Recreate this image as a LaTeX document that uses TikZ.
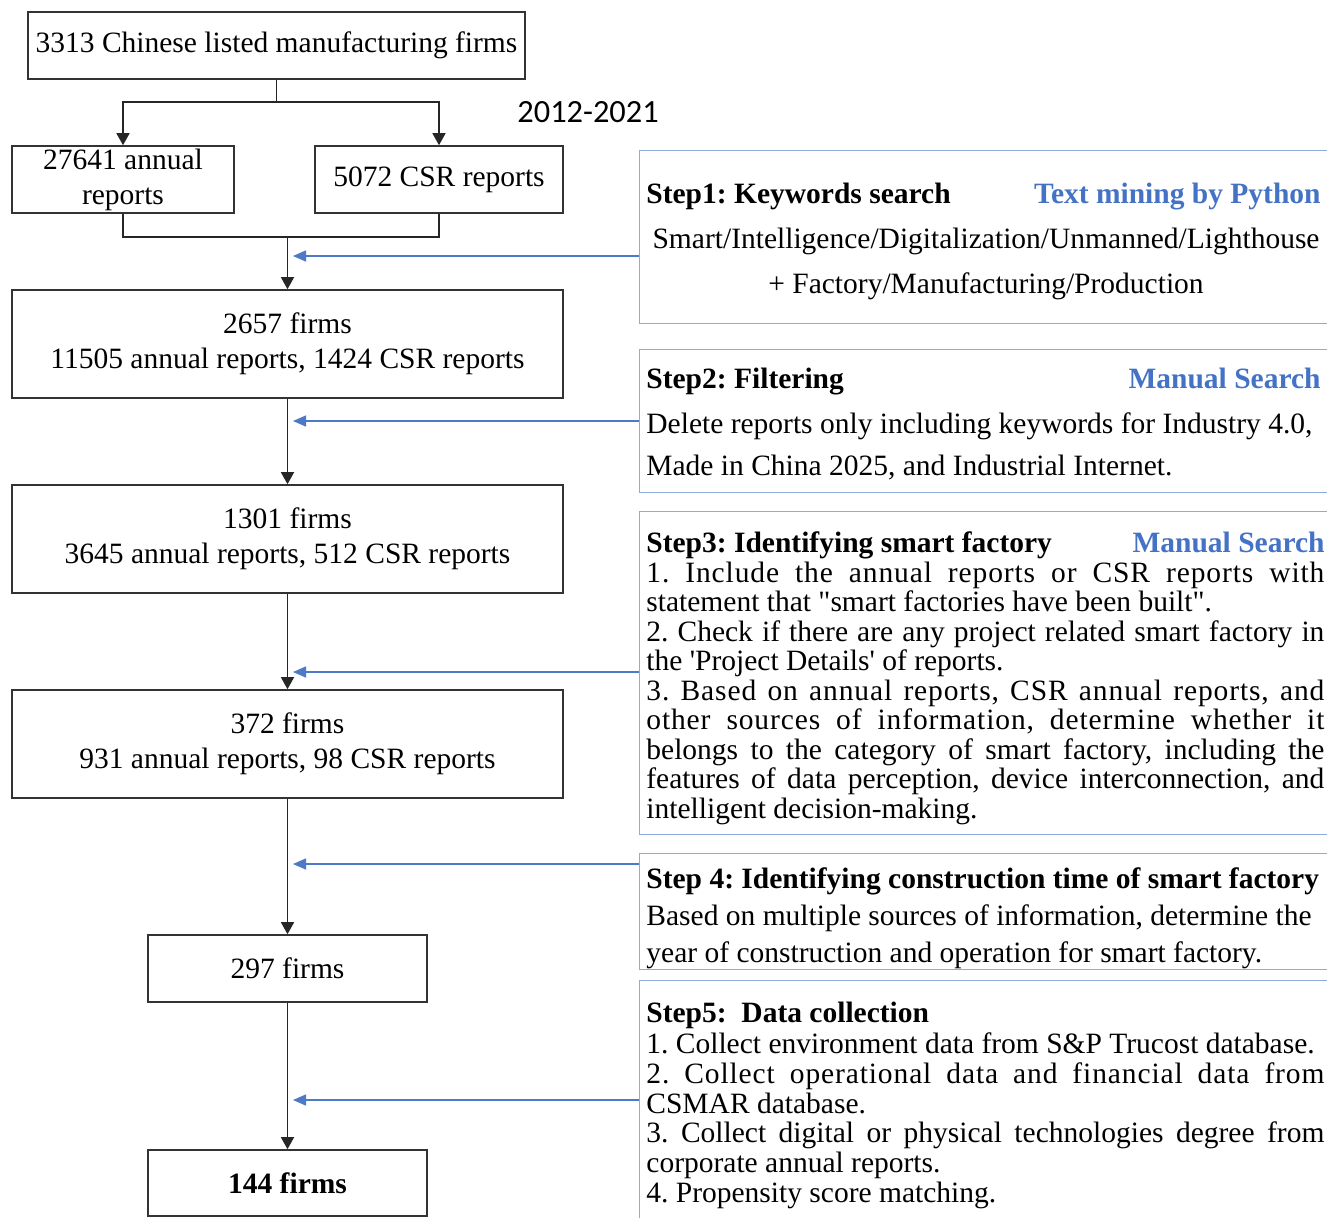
\documentclass[tikz,border=0pt]{standalone}
\usepackage{fontspec}
\setmainfont{Liberation Serif}[Ligatures=TeXOff]
\newfontfamily\calfont{Carlito}
\newfontfamily\lsfont{Liberation Serif}[LetterSpace=3,Ligatures=TeXOff]
\usetikzlibrary{arrows.meta}
\definecolor{bluet}{RGB}{68,114,196}
\definecolor{bluel}{RGB}{78,121,200}
\definecolor{bbord}{RGB}{143,170,220}
\newcommand\fs{\fontsize{14.75}{17.5}\selectfont}
\newcommand\jl[1]{\makebox[339pt][s]{#1}}
\frenchspacing
\begin{document}
\frenchspacing
\begin{tikzpicture}[x=0.5pt,y=-0.5pt,
  box/.style={draw=black!80, line width=0.8pt, inner sep=0pt, align=center, font=\fs},
  sbox/.style={draw=bbord, line width=0.7pt, inner sep=0pt, anchor=north west, minimum width=353pt},
  tl/.style={inner sep=0pt, anchor=base west, font=\fs},
  conn/.style={draw=black!85, line width=0.7pt},
  arr/.style={conn, -{Triangle[length=6pt,width=6.5pt]}},
  barr/.style={draw=bluel, line width=0.7pt, -{Triangle[length=6.5pt,width=5.5pt]}}]
\useasboundingbox (0,0) rectangle (1327,1217);
\clip (0,0) rectangle (1327,1217);
\fill[white] (0,0) rectangle (1327,1217);

% left column boxes
\node[box, minimum width=248.5pt, minimum height=33.5pt] (top) at (276.5,45.5) {3313 Chinese listed manufacturing firms};
\node[box, minimum width=111pt, minimum height=33.5pt] (ann) at (123,179.5) {27641 annual\\reports};
\node[box, minimum width=124pt, minimum height=33.5pt] (csr) at (439,179.5) {5072 CSR reports};
\node[box, minimum width=275.5pt, minimum height=54pt] (f2657) at (287.5,344) {2657 firms\\11505 annual reports, 1424 CSR reports};
\node[box, minimum width=275.5pt, minimum height=54pt] (f1301) at (287.5,539) {1301 firms\\3645 annual reports, 512 CSR reports};
\node[box, minimum width=275.5pt, minimum height=54pt] (f372) at (287.5,744) {372 firms\\931 annual reports, 98 CSR reports};
\node[box, minimum width=139.5pt, minimum height=33.5pt] (f297) at (287.5,968.5) {297 firms};
\node[box, minimum width=139.5pt, minimum height=33pt, font=\fs\bfseries] (f144) at (287.5,1183) {144 firms};

\node[inner sep=0pt, anchor=base west, font=\calfont\fontsize{16.2}{18}\selectfont] (yr) at (517,122) {2012-2021};

% connectors
\coordinate (j1) at (276.5,102);
\draw[conn] (top.south) -- (j1);
\draw[arr] (j1) -| (ann.north);
\draw[arr] (j1) -| (csr.north);
\coordinate (j2) at (287.5,237);
\draw[conn] (ann.south) |- (j2) -| (csr.south);
\draw[arr] (j2) -- (f2657.north);
\draw[arr] (f2657.south) -- (f1301.north);
\draw[arr] (f1301.south) -- (f372.north);
\draw[arr] (f372.south) -- (f297.north);
\draw[arr] (f297.south) -- (f144.north);

% step boxes
\node[sbox, minimum height=86.5pt] (b1) at (639,150) {};
\node[sbox, minimum height=71.5pt] (b2) at (639,349) {};
\node[sbox, minimum height=161.5pt] (b3) at (639,510.5) {};
\node[sbox, minimum height=58pt] (b4) at (639,852.5) {};
\node[sbox, minimum height=130pt] (b5) at (639,980) {};

\coordinate (t1) at (293,256);
\coordinate (t2) at (293,421);
\coordinate (t3) at (293,672);
\coordinate (t4) at (293,864);
\coordinate (t5) at (293,1100);
\draw[barr] (b1.west |- t1) -- (t1);
\draw[barr] (b2.west |- t2) -- (t2);
\draw[barr] (b3.west |- t3) -- (t3);
\draw[barr] (b4.west |- t4) -- (t4);
\draw[barr] (b5.west |- t5) -- (t5);

% step 1
\node[tl] (s1t) at (646,203) {\bfseries Step1: Keywords search};
\node[tl, anchor=base east, text=bluet] (s1m) at (1321,203) {\bfseries Text mining by Python};
\node[tl, anchor=base] (s1a) at (986,248) {Smart/Intelligence/Digitalization/Unmanned/Lighthouse};
\node[tl, anchor=base] (s1b) at (986,293) {+ Factory/Manufacturing/Production};

% step 2
\node[tl] (s2t) at (646,388) {\bfseries Step2: Filtering};
\node[tl, anchor=base east, text=bluet] (s2m) at (1321,388) {\bfseries Manual Search};
\node[tl] (s2a) at (646,433) {Delete reports only including keywords for Industry 4.0,};
\node[tl] (s2b) at (646,475) {Made in China 2025, and Industrial Internet.};

% step 3
\node[tl] (s3t) at (646,552) {\bfseries Step3: Identifying smart factory};
\node[tl, anchor=base east, text=bluet] (s3m) at (1325,552) {\bfseries Manual Search};
\node[tl] (s3a) at (646,582) {\jl{\lsfont 1. Include the annual reports or CSR reports with}};
\node[tl] (s3b) at (646,611.5) {statement that "smart factories have been built".};
\node[tl] (s3c) at (646,641) {\jl{2. Check if there are any project related smart factory in}};
\node[tl] (s3d) at (646,670.5) {the 'Project Details' of reports.};
\node[tl] (s3e) at (646,700) {\jl{\lsfont 3. Based on annual reports, CSR annual reports, and}};
\node[tl] (s3f) at (646,729.5) {\jl{\lsfont other sources of information, determine whether it}};
\node[tl] (s3g) at (646,759) {\jl{belongs to the category of smart factory, including the}};
\node[tl] (s3h) at (646,788.5) {\jl{features of data perception, device interconnection, and}};
\node[tl] (s3i) at (646,818) {intelligent decision-making.};

% step 4
\node[tl] (s4t) at (646,888) {\bfseries Step 4: Identifying construction time of smart factory};
\node[tl] (s4a) at (646,925) {Based on multiple sources of information, determine the};
\node[tl] (s4b) at (646,962) {year of construction and operation for smart factory.};

% step 5
\node[tl] (s5t) at (646,1022) {\bfseries Step5:\ \ Data collection};
\node[tl] (s5a) at (646,1053) {1. Collect environment data from S\&P Trucost database.};
\node[tl] (s5b) at (646,1083) {\jl{\lsfont 2. Collect operational data and financial data from}};
\node[tl] (s5c) at (646,1113) {CSMAR database.};
\node[tl] (s5d) at (646,1142) {\jl{3. Collect digital or physical technologies degree from}};
\node[tl] (s5e) at (646,1172) {corporate annual reports.};
\node[tl] (s5f) at (646,1202) {4. Propensity score matching.};
\end{tikzpicture}
\end{document}
